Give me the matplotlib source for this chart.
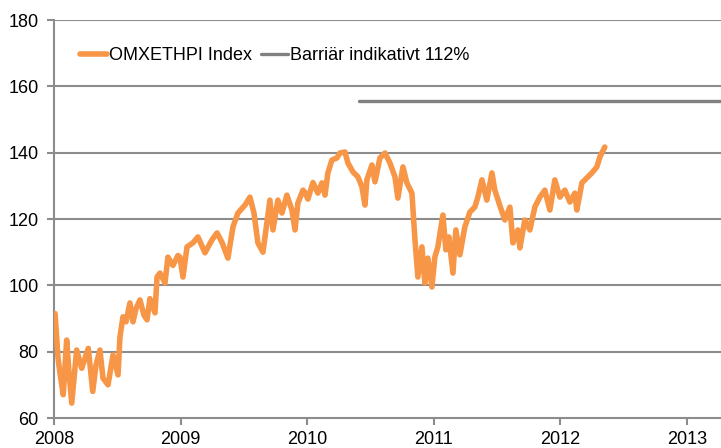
import matplotlib
matplotlib.use('Agg')
from matplotlib import pyplot as plt

# OMXETHPI index (decimal year, level)
years = [2008.008, 2008.032, 2008.047, 2008.073, 2008.100, 2008.118, 2008.140, 2008.179,
         2008.219, 2008.245, 2008.271, 2008.306, 2008.332, 2008.363, 2008.387, 2008.427,
         2008.466, 2008.506, 2008.521, 2008.545, 2008.569, 2008.600, 2008.624, 2008.648,
         2008.679, 2008.711, 2008.735, 2008.758, 2008.798, 2008.814, 2008.837, 2008.877,
         2008.900, 2008.940, 2008.979, 2008.995, 2009.019, 2009.051, 2009.098, 2009.137,
         2009.193, 2009.248, 2009.288, 2009.327, 2009.374, 2009.414, 2009.453, 2009.509,
         2009.548, 2009.580, 2009.611, 2009.651, 2009.682, 2009.706, 2009.730, 2009.769,
         2009.801, 2009.840, 2009.880, 2009.904, 2009.927, 2009.967, 2009.983, 2010.006,
         2010.046, 2010.085, 2010.117, 2010.141, 2010.164, 2010.196, 2010.235, 2010.259,
         2010.299, 2010.322, 2010.362, 2010.401, 2010.433, 2010.457, 2010.472, 2010.512,
         2010.536, 2010.575, 2010.615, 2010.654, 2010.694, 2010.717, 2010.757, 2010.788,
         2010.828, 2010.852, 2010.875, 2010.907, 2010.930, 2010.954, 2010.986, 2011.009,
         2011.033, 2011.073, 2011.096, 2011.120, 2011.152, 2011.175, 2011.207, 2011.246,
         2011.286, 2011.325, 2011.349, 2011.381, 2011.420, 2011.460, 2011.483, 2011.523,
         2011.562, 2011.602, 2011.626, 2011.665, 2011.681, 2011.720, 2011.760, 2011.799,
         2011.839, 2011.878, 2011.918, 2011.957, 2011.997, 2012.036, 2012.076, 2012.115,
         2012.131, 2012.171, 2012.210, 2012.250, 2012.289, 2012.313, 2012.352]
index = [91.5, 78, 73.6, 67, 83.5, 74, 64.5, 80.5,
         75, 78, 81, 68, 76, 80.5, 72, 70,
         79, 73, 84.4, 90.5, 89, 94.7, 89, 93,
         95.6, 91, 89.6, 96, 91.7, 102.5, 103.7, 100.7,
         108.5, 106, 109, 108.5, 102.5, 111.6, 112.8, 114.6,
         109.8, 113.7, 115.8, 113, 108.2, 117.6, 121.8, 124.2,
         126.6, 121.8, 112.8, 110, 118.8, 125.7, 116.7, 125.7,
         121.8, 127.2, 122.7, 116.7, 124.8, 128.7, 128, 126,
         131, 127.8, 130.9, 127.2, 133.9, 137.8, 138.4, 139.9,
         140.2, 136.9, 134.2, 132.7, 129.7, 124.2, 131.8, 136.3,
         131.2, 138.4, 139.9, 136.9, 132.7, 126.3, 135.7, 130.9,
         127.8, 113.7, 102.5, 111.6, 100.7, 108.2, 99.5, 108.5,
         111.6, 121.2, 110.7, 114.6, 103.7, 116.7, 109.2, 117.6,
         122.1, 123.6, 126.6, 131.8, 125.7, 133.9, 128.7, 124,
         119.7, 123.6, 112.8, 116.7, 111.3, 119.7, 116.7, 123.6,
         126.6, 128.7, 122.7, 131.8, 126.6, 128.7, 125.1, 127.8,
         122.7, 130.9, 132.4, 133.9, 135.7, 138.7, 141.7]

barrier_years = [2010.41, 2013.5]
barrier_level = [155.7, 155.7]

year_ticks = [2008, 2009, 2010, 2011, 2012, 2013]
level_ticks = [60, 80, 100, 120, 140, 160, 180]

plt.rcParams['font.family'] = ['Liberation Sans', 'DejaVu Sans']

fig = plt.figure(figsize=(7.21, 4.48), dpi=100)
ax = fig.add_axes([54/721, 30/448, 1 - 54/721, 398/448])

grid_col = '#8c8c8c'
for v in level_ticks[1:]:
    ax.axhline(v, color=grid_col, lw=1.5, zorder=1)

ax.plot(years, index, color='#F79646', lw=4.0, solid_joinstyle='round',
        solid_capstyle='round', label='OMXETHPI Index', zorder=3)
ax.plot(barrier_years, barrier_level, color='#808080', lw=2.4,
        solid_capstyle='round', label='Barriär indikativt 112%', zorder=2)

ax.set_xlim(2008, 2013.27)
ax.set_ylim(60, 180)
ax.set_xticks(year_ticks)
ax.set_xticklabels([str(y) for y in year_ticks])
ax.set_yticks(level_ticks)

for s in ['top', 'right']:
    ax.spines[s].set_visible(False)
for s in ['left', 'bottom']:
    ax.spines[s].set_color(grid_col)
    ax.spines[s].set_linewidth(1.5)
ax.tick_params(axis='both', colors=grid_col, width=1.5, length=5,
               labelcolor='black', labelsize=13)
ax.tick_params(axis='x', pad=4)
ax.tick_params(axis='y', pad=6)

leg = ax.legend(loc='upper left', ncol=2, frameon=False, fontsize=13,
                bbox_to_anchor=(0.028, 0.95), handlelength=1.5,
                handletextpad=0.1, columnspacing=0.5, borderaxespad=0)

fig.savefig('out.png', dpi=100)
